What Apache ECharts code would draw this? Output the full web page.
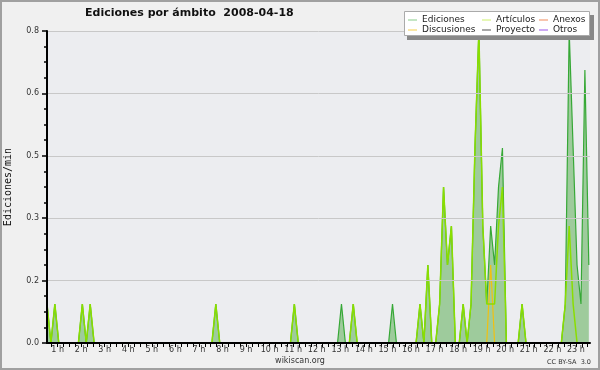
<!DOCTYPE html>
<html><head><meta charset="utf-8">
<script src="https://cdn.jsdelivr.net/npm/echarts@6/dist/echarts.min.js"></script>
<style>html,body{margin:0;padding:0;background:#f0f0f0}#c{width:600px;height:370px}</style>
</head><body><div id="c"></div>
<script>
// sampling grid: one value every 10 minutes starting at minute 33 of 2008-04-18
const startMinute = 33;
const stepMinutes = 10;

const ediciones = [
  0.1,0,0.1,0,0,0,0,0,0,0.1,
  0,0.1,0,0,0,0,0,0,0,0,
  0,0,0,0,0,0,0,0,0,0,
  0,0,0,0,0,0,0,0,0,0,
  0,0,0,0.1,0,0,0,0,0,0,
  0,0,0,0,0,0,0,0,0,0,
  0,0,0,0.1,0,0,0,0,0,0,
  0,0,0,0,0,0.1,0,0,0.1,0,
  0,0,0,0,0,0,0,0,0.1,0,
  0,0,0,0,0,0.1,0,0.2,0,0,
  0.1,0.4,0.2,0.3,0,0,0.1,0,0.1,0.5,
  0.8,0.3,0.1,0.3,0.2,0.4,0.5,0,0,0,
  0,0.1,0,0,0,0,0,0,0,0,
  0,0,0.1,0.8,0.5,0.2,0.1,0.7,0.2
];
const articulos = [
  0.1,0,0.1,0,0,0,0,0,0,0.1,
  0,0.1,0,0,0,0,0,0,0,0,
  0,0,0,0,0,0,0,0,0,0,
  0,0,0,0,0,0,0,0,0,0,
  0,0,0,0.1,0,0,0,0,0,0,
  0,0,0,0,0,0,0,0,0,0,
  0,0,0,0.1,0,0,0,0,0,0,
  0,0,0,0,0,0,0,0,0.1,0,
  0,0,0,0,0,0,0,0,0,0,
  0,0,0,0,0,0.1,0,0.2,0,0,
  0.1,0.4,0.2,0.3,0,0,0.1,0,0.1,0.5,
  0.8,0.3,0.1,0.1,0.1,0.3,0.4,0,0,0,
  0,0.1,0,0,0,0,0,0,0,0,
  0,0,0.1,0.3,0.1,0,0,0,0
];
const discusiones = [
  0,0,0,0,0,0,0,0,0,0,
  0,0,0,0,0,0,0,0,0,0,
  0,0,0,0,0,0,0,0,0,0,
  0,0,0,0,0,0,0,0,0,0,
  0,0,0,0,0,0,0,0,0,0,
  0,0,0,0,0,0,0,0,0,0,
  0,0,0,0,0,0,0,0,0,0,
  0,0,0,0,0,0,0,0,0,0,
  0,0,0,0,0,0,0,0,0,0,
  0,0,0,0,0,0,0,0,0,0,
  0,0,0,0,0,0,0,0,0,0,
  0,0,0,0.2,0,0,0,0,0,0,
  0,0,0,0,0,0,0,0,0,0,
  0,0,0,0,0,0,0,0,0
];
const proyecto = [];
const anexos = [];
const otros = [];

const hourTicks = [1,2,3,4,5,6,7,8,9,10,11,12,13,14,15,16,17,18,19,20,21,22,23];
const hourLabels = ['1 h','2 h','3 h','4 h','5 h','6 h','7 h','8 h','9 h','10 h','11 h','12 h','13 h','14 h','15 h','16 h','17 h','18 h','19 h','20 h','21 h','22 h','23 h'];
const yMax = 0.8, yStep = 0.16;

function toPairs(arr){ return arr.map((v,k)=>[(startMinute + k*stepMinutes)/60, v]); }
const quarterTicks = [];
for (let q = 3; q <= 94; q++) quarterTicks.push(q/4);

const chart = echarts.init(document.getElementById('c'), null, {renderer:'canvas'});
const FONT = 'DejaVu Sans';
function leg(name, color, left, top){
  return {show:true, orient:'vertical', left:left, top:top, padding:0, z:110,
    icon:'rect', itemWidth:9, itemHeight:1, selectedMode:false,
    textStyle:{fontFamily:FONT, fontSize:9, color:'#222'},
    data:[{name:name, itemStyle:{color:color}}]};
}
chart.setOption({
  animation:false,
  backgroundColor:'#f0f0f0',
  title:{text:'Ediciones por ámbito  2008-04-18', left:85, top:8, padding:0,
    textStyle:{fontFamily:FONT, fontSize:11, fontWeight:'bold', color:'#111'}},
  grid:{left:47, right:10, top:31, bottom:27, outerBoundsMode:'none', containLabel:false,
    show:true, backgroundColor:'#ecedf0', borderWidth:0},
  legend:[
    leg('Ediciones','#88cc88',408,15.5),
    leg('Discusiones','#f5cf4a',408,25.5),
    leg('Artículos','#ccf06a',482,15.5),
    leg('Proyecto','#505050',482,25.5),
    leg('Anexos','#f08a5a',539,15.5),
    leg('Otros','#9a55e8',539,25.5)
  ],
  xAxis:{type:'value', min:startMinute/60, max:23.6, z:5,
    axisLine:{lineStyle:{color:'#000', width:2}},
    axisTick:{show:true, customValues:quarterTicks, length:4, lineStyle:{color:'#000', width:1}},
    axisLabel:{customValues:hourTicks, formatter:(v)=>hourLabels[hourTicks.indexOf(Math.round(v))],
      fontFamily:FONT, fontSize:8, color:'#333', margin:3},
    splitLine:{show:false}},
  yAxis:{type:'value', min:0, max:yMax, interval:yStep, z:5,
    name:'Ediciones/min', nameLocation:'middle', nameGap:34, nameRotate:90,
    nameTextStyle:{fontFamily:'DejaVu Sans Mono', fontSize:10, color:'#111'},
    axisLine:{show:true, lineStyle:{color:'#000', width:2}},
    axisTick:{show:true, length:5, lineStyle:{color:'#000', width:1.5}},
    minorTick:{show:true, splitNumber:4, length:3, lineStyle:{color:'#000', width:1.5}},
    axisLabel:{formatter:(v)=>v.toFixed(1), fontFamily:FONT, fontSize:8, color:'#333', margin:8},
    splitLine:{show:true, lineStyle:{color:'#c8c8c8', width:1}}},
  series:[
    {name:'Ediciones', type:'line', data:toPairs(ediciones), symbol:'none', z:2,
      lineStyle:{color:'#36a836', width:1.2}, itemStyle:{color:'#36a836'},
      areaStyle:{color:'#9ecb9c', opacity:1}},
    {name:'Discusiones', type:'line', data:toPairs(discusiones), symbol:'none', z:3,
      lineStyle:{color:'#f2c010', width:1.2}, itemStyle:{color:'#f2c010'}},
    {name:'Artículos', type:'line', data:toPairs(articulos), symbol:'none', z:4,
      lineStyle:{color:'#8ade00', width:1.5}, itemStyle:{color:'#8ade00'}},
    {name:'Proyecto', type:'line', data:proyecto, symbol:'none', lineStyle:{color:'#505050'}, itemStyle:{color:'#505050'}},
    {name:'Anexos', type:'line', data:anexos, symbol:'none', lineStyle:{color:'#f08a5a'}, itemStyle:{color:'#f08a5a'}},
    {name:'Otros', type:'line', data:otros, symbol:'none', lineStyle:{color:'#9a55e8'}, itemStyle:{color:'#9a55e8'}}
  ],
  graphic:[
    {type:'rect', z:100, shape:{x:407, y:15, width:187, height:25}, style:{fill:'#888'}},
    {type:'rect', z:101, shape:{x:404.5, y:11.5, width:185, height:24}, style:{fill:'#ffffff', stroke:'#aaaaaa', lineWidth:1}},
    {type:'text', z:100, x:300, y:361, style:{text:'wikiscan.org', fontFamily:FONT, fontSize:8, fill:'#333', align:'center', verticalAlign:'middle'}},
    {type:'text', z:100, x:591, y:362, style:{text:'CC BY-SA  3.0', fontFamily:FONT, fontSize:6.5, fill:'#333', align:'right', verticalAlign:'middle'}},
    {type:'rect', z:100, shape:{x:1, y:1, width:598, height:368}, style:{fill:null, stroke:'#a0a0a0', lineWidth:2}}
  ]
});
</script></body></html>
